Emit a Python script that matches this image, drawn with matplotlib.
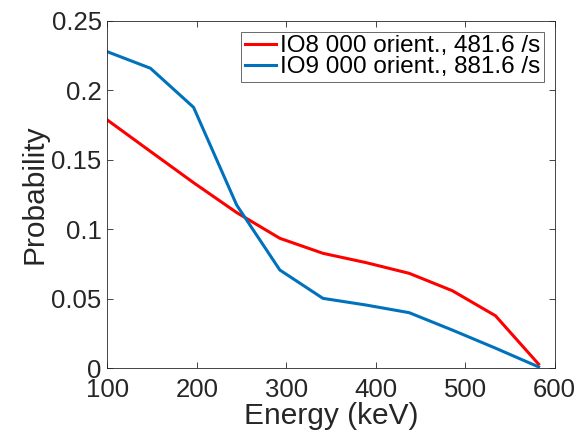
import matplotlib

matplotlib.use("Agg")
import matplotlib.pyplot as plt  # noqa: E402

energy = [100, 148.2, 196.4, 244.6, 292.8, 341.0, 389.2, 437.4, 485.6, 533.8, 582.0]
io8 = [0.1786, 0.156, 0.1335, 0.112, 0.0935, 0.0827, 0.0760, 0.0683, 0.0558, 0.0378, 0.003]
io9 = [0.2277, 0.2158, 0.1877, 0.1174, 0.0707, 0.0503, 0.0455, 0.0400, 0.0275, 0.0145, 0.001]
labels = ["IO8 000 orient., 481.6 /s", "IO9 000 orient., 881.6 /s"]

plt.rcParams["font.family"] = ["Liberation Sans", "DejaVu Sans"]
dark = (0.15, 0.15, 0.15)

fig = plt.figure(figsize=(5.78, 4.38), dpi=100)
ax = fig.add_axes([107.3 / 578, 1 - 368.3 / 438, 447.4 / 578, 347.6 / 438])
ax.plot(energy, io8, color=(1, 0, 0), lw=2.2, label=labels[0])
ax.plot(energy, io9, color=(0, 0.447, 0.741), lw=2.2, label=labels[1])

ax.set_xlim(100, 600)
ax.set_ylim(0, 0.25)
ax.set_xticks([100, 200, 300, 400, 500, 600])
ax.set_yticks([0, 0.05, 0.1, 0.15, 0.2, 0.25])
ax.set_yticklabels(["0", "0.05", "0.1", "0.15", "0.2", "0.25"])
ax.tick_params(direction="in", top=True, right=True, labelsize=18.5,
               colors=dark, length=4, width=0.6, pad=4)
ax.tick_params(axis="x", pad=7)
for s in ax.spines.values():
    s.set_color(dark)
    s.set_linewidth(0.6)
ax.set_xlabel("Energy (keV)", fontsize=21.5, color=dark, labelpad=0)
ax.set_ylabel("Probability", fontsize=21.5, color=dark, labelpad=2)

leg = ax.legend(loc="upper right", fontsize=17.5, frameon=True, fancybox=False,
                borderpad=0.15, handlelength=1.3, handletextpad=0.15,
                labelspacing=-0.05, borderaxespad=0.45)
leg.get_frame().set_edgecolor(dark)
leg.get_frame().set_linewidth(0.6)

fig.savefig("out.png", dpi=100)
